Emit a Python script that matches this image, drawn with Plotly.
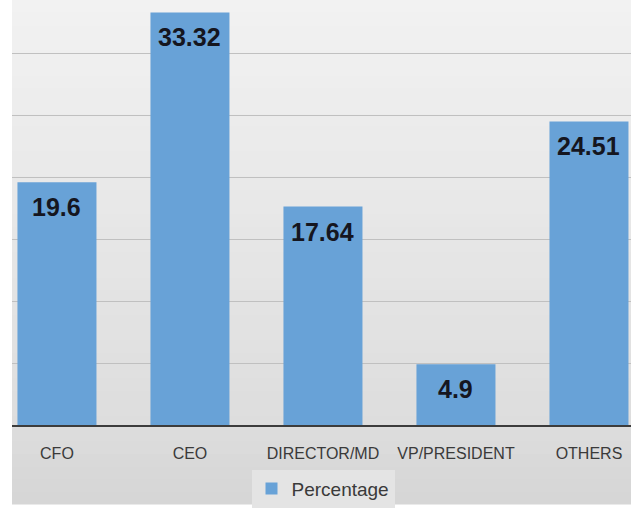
import plotly.graph_objects as go

# Share of respondents by job title
roles = ["CFO", "CEO", "DIRECTOR/MD", "VP/PRESIDENT", "OTHERS"]
percentages = [19.6, 33.32, 17.64, 4.9, 24.51]
series_name = "Percentage"

W, H = 631, 508
M_L, M_R, M_T, M_B = 12, 0, 0, 80
plot_h = H - M_T - M_B

BAR_COLOR = "#68a2d7"
TEXT_DARK = "#3a3a3a"

fig = go.Figure()

fig.add_trace(
    go.Bar(
        x=list(range(len(roles))),
        y=percentages,
        name=series_name,
        width=0.594,
        marker=dict(color=BAR_COLOR, line=dict(width=0)),
        showlegend=True,
        hoverinfo="skip",
    )
)

# Value labels sit just inside the top of each bar
for i, v in enumerate(percentages):
    fig.add_annotation(
        x=i, y=v, xref="x", yref="y",
        text=f"<b>{v:g}</b>",
        showarrow=False,
        yanchor="middle",
        yshift=-25,
        font=dict(family="Liberation Sans, Arial, sans-serif", size=25, color="#15161f"),
    )

# Soft vertical gradient behind the chart
def lerp(a, b, t):
    return tuple(round(a[k] + (b[k] - a[k]) * t) for k in range(3))

top_c = (242, 242, 242)
mid_c = (221, 221, 221)
bot_c = (213, 213, 213)
y_bottom = -M_B / plot_h
bands = 40
shapes = []
for k in range(bands):
    y0 = y_bottom + (1 - y_bottom) * k / bands
    y1 = y_bottom + (1 - y_bottom) * (k + 1) / bands + 0.002
    yc = (y0 + y1) / 2
    if yc >= 0:
        c = lerp(mid_c, top_c, yc)
    else:
        c = lerp(bot_c, mid_c, (yc - y_bottom) / (0 - y_bottom))
    shapes.append(dict(
        type="rect", xref="paper", yref="paper",
        x0=0, x1=1, y0=y0, y1=y1,
        fillcolor="rgb(%d,%d,%d)" % c, line=dict(width=0), layer="below",
    ))

fig.update_layout(
    width=W, height=H,
    margin=dict(l=M_L, r=M_R, t=M_T, b=M_B, pad=0),
    paper_bgcolor="white",
    plot_bgcolor="rgba(0,0,0,0)",
    shapes=shapes,
    bargap=0.4,
    font=dict(family="Liberation Sans, Arial, sans-serif", color=TEXT_DARK),
    xaxis=dict(
        tickmode="array",
        tickvals=list(range(len(roles))),
        ticktext=roles,
        range=[-0.338, 4.316],
        showgrid=False,
        zeroline=False,
        showline=True,
        linecolor="#3c3c3c",
        linewidth=2,
        ticks="outside",
        ticklen=13,
        tickcolor="rgba(0,0,0,0)",
        tickfont=dict(size=16, color=TEXT_DARK),
        fixedrange=True,
    ),
    yaxis=dict(
        range=[0, 34.32],
        tick0=0,
        dtick=5,
        showgrid=True,
        gridcolor="#c0c0c0",
        gridwidth=1,
        zeroline=False,
        showticklabels=False,
        showline=False,
        fixedrange=True,
    ),
    legend=dict(
        orientation="h",
        x=(323 - M_L) / (W - M_L - M_R),
        xanchor="center",
        y=-45 / plot_h,
        yanchor="top",
        bgcolor="#e4e4e4",
        font=dict(size=19, color=TEXT_DARK),
        itemclick=False,
        itemdoubleclick=False,
    ),
    showlegend=True,
)

fig.write_html("out.html", config={"displayModeBar": False})
